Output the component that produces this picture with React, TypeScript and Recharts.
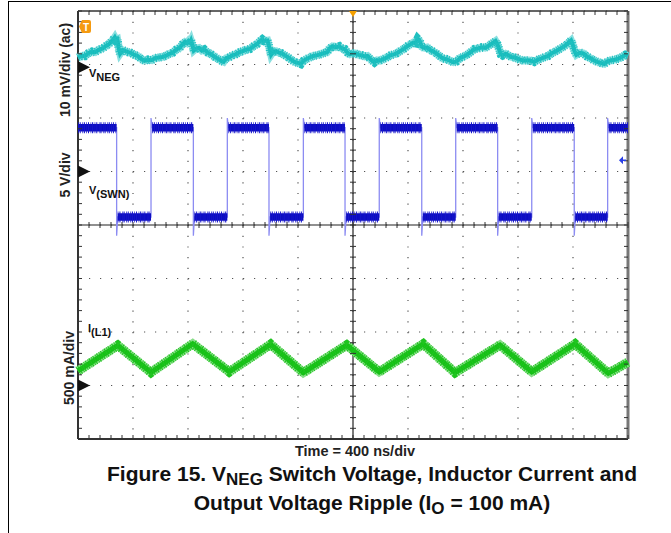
import {
  CartesianGrid,
  ComposedChart,
  Line,
  ReferenceDot,
  ReferenceLine,
  Scatter,
  XAxis,
  YAxis,
} from "recharts";

const MAJOR_X = [0, 400, 800, 1200, 1600, 2000, 2400, 2800, 3200, 3600, 4000];
const MAJOR_Y = [-4, -3, -2, -1, 0, 1, 2, 3, 4];
const MINOR_X = [
  0, 80, 160, 240, 320, 400, 480, 560, 640, 720, 800, 880, 960, 1040, 1120, 1200, 1280,
  1360, 1440, 1520, 1600, 1680, 1760, 1840, 1920, 2000, 2080, 2160, 2240, 2320, 2400,
  2480, 2560, 2640, 2720, 2800, 2880, 2960, 3040, 3120, 3200, 3280, 3360, 3440, 3520,
  3600, 3680, 3760, 3840, 3920, 4000,
];
const MINOR_Y = [
  -4, -3.8, -3.6, -3.4, -3.2, -3, -2.8, -2.6, -2.4, -2.2, -2, -1.8, -1.6, -1.4, -1.2, -1,
  -0.8, -0.6, -0.4, -0.2, 0, 0.2, 0.4, 0.6, 0.8, 1, 1.2, 1.4, 1.6, 1.8, 2, 2.2, 2.4, 2.6,
  2.8, 3, 3.2, 3.4, 3.6, 3.8, 4,
];

// channel 1: V_NEG ripple, 10 mV/div (ac)
const VNEG_GND_DIV = 2.95;
const VNEG_MV_PER_DIV = 10;
const VNEG_T = [
  0, 25, 51, 75, 102, 125, 153, 180, 204, 225, 242, 258, 268, 278, 286, 296, 306, 325, 345,
  365, 383, 410, 434, 460, 485, 510, 536, 560, 587, 612, 638, 665, 689, 715, 740, 760, 778,
  792, 804, 815, 822, 832, 842, 860, 880, 900, 919, 945, 970, 995, 1021, 1040, 1059, 1078,
  1097, 1120, 1148, 1175, 1199, 1225, 1250, 1275, 1302, 1320, 1340, 1355, 1378, 1392, 1404,
  1420, 1442, 1460, 1480, 1505, 1531, 1555, 1582, 1600, 1621, 1640, 1659, 1685, 1710, 1735,
  1761, 1785, 1812, 1830, 1850, 1875, 1901, 1920, 1940, 1960, 1978, 1995, 2016, 2040, 2067,
  2085, 2105, 2130, 2156, 2175, 2195, 2220, 2246, 2270, 2297, 2320, 2348, 2375, 2399, 2420,
  2437, 2455, 2470, 2485, 2501, 2520, 2539, 2560, 2578, 2605, 2629, 2655, 2680, 2705, 2731,
  2755, 2782, 2808, 2833, 2860, 2884, 2910, 2935, 2960, 2986, 3010, 3037, 3050, 3062, 3075,
  3088, 3110, 3126, 3150, 3177, 3205, 3241, 3280, 3318, 3345, 3369, 3395, 3420, 3445, 3471,
  3497, 3522, 3548, 3573, 3586, 3598, 3611, 3624, 3650, 3675, 3700, 3726, 3750, 3777, 3800,
  3828, 3850, 3879, 3905, 3930, 3955, 3981, 4000,
];
const VNEG_MV = [
  1.8, 2.1, 2.1, 2.6, 2.9, 2.8, 3.3, 3.5, 4.0, 4.3, 4.8, 5.2, 5.6, 5.1, 5.2, 3.6, 2.5, 3.2,
  3.0, 2.8, 2.7, 2.3, 2.1, 1.5, 1.2, 1.4, 1.3, 1.7, 1.8, 1.9, 2.1, 2.5, 2.7, 3.3, 3.6, 4.3,
  4.7, 4.5, 4.9, 4.6, 5.0, 4.2, 3.1, 3.5, 3.6, 3.1, 3.3, 2.7, 2.4, 1.9, 1.5, 1.2, 1.0, 1.7,
  1.8, 2.2, 2.4, 2.8, 3.0, 3.3, 3.4, 3.9, 4.3, 4.8, 5.2, 4.9, 5.0, 3.7, 2.3, 2.9, 3.0, 2.7,
  2.6, 2.2, 1.8, 1.3, 0.9, 0.8, 0.6, 1.2, 1.5, 1.8, 2.1, 2.2, 2.4, 2.6, 2.8, 3.5, 3.9, 3.7,
  3.9, 3.5, 3.4, 2.7, 2.4, 2.6, 2.6, 2.3, 2.2, 2.0, 2.1, 1.4, 0.9, 1.3, 1.2, 1.5, 1.8, 2.2,
  2.4, 2.6, 3.1, 3.5, 4.0, 4.3, 4.6, 4.5, 5.3, 4.9, 3.8, 3.6, 3.7, 3.2, 3.0, 2.6, 2.1, 1.6,
  1.5, 1.2, 0.9, 1.1, 1.8, 2.0, 2.4, 2.9, 3.4, 3.5, 3.7, 3.6, 4.0, 4.4, 4.9, 4.3, 3.4, 2.4,
  2.2, 2.5, 2.3, 1.9, 1.8, 1.5, 1.2, 1.3, 1.0, 1.4, 1.6, 1.9, 2.1, 2.6, 2.9, 3.3, 3.7, 4.1,
  4.7, 5.0, 4.2, 3.0, 2.3, 2.7, 2.6, 2.0, 1.7, 1.3, 1.0, 0.8, 0.6, 1.1, 1.3, 1.4, 1.6, 1.9,
  2.3, 2.1,
];

// channel 2: V(SWN), 5 V/div
const SWN_GND_DIV = 1;
const SWN_V_PER_DIV = 5;
const SWN_FALL_NS = [281, 839, 1389, 1942, 2500, 3052, 3609];
const SWN_RISE_NS = [531, 1086, 1639, 2191, 2747, 3300, 3852];
const SWN_HIGH_V = 4.1;
const SWN_LOW_V = -4.25;
const SWN_UNDERSHOOT_V = -6.0;
const SWN_OVERSHOOT_V = 5.0;

// channel 4: I(L1), 500 mA/div
const IL1_GND_DIV = -3;
const IL1_MA_PER_DIV = 500;
const IL1_T = [0, 289, 531, 834, 1100, 1401, 1639, 1954, 2191, 2511, 2742, 3069, 3300, 3615, 3857, 4000];
const IL1_MA = [136, 375, 122, 390, 128, 385, 120, 378, 128, 388, 120, 378, 128, 388, 114, 218];

const TRIGGER_LEVEL_DIV = 1.21;
const T_MARKER_DIV = 3.71;

type Row = { t: number; v: number | null };

const vnegRows: Row[] = VNEG_T.map((t, i) => ({ t, v: VNEG_GND_DIV + VNEG_MV[i] / VNEG_MV_PER_DIV }));
const il1Rows: Row[] = IL1_T.map((t, i) => ({ t, v: IL1_GND_DIV + IL1_MA[i] / IL1_MA_PER_DIV }));

const sw = (volts: number) => SWN_GND_DIV + volts / SWN_V_PER_DIV;

// thin trace incl. edges and ringing spikes
const swnEdgeRows: Row[] = [{ t: 0, v: sw(SWN_HIGH_V) }];
// thick noisy flat parts, broken at each edge
const swnBandRows: Row[] = [{ t: 0, v: sw(SWN_HIGH_V) }];
SWN_FALL_NS.forEach((f, i) => {
  const r = SWN_RISE_NS[i];
  swnEdgeRows.push(
    { t: f, v: sw(SWN_HIGH_V) },
    { t: f, v: sw(SWN_UNDERSHOOT_V) },
    { t: f + 8, v: sw(SWN_LOW_V) },
    { t: r, v: sw(SWN_LOW_V) },
    { t: r, v: sw(SWN_OVERSHOOT_V) },
    { t: r + 8, v: sw(SWN_HIGH_V) },
  );
  swnBandRows.push(
    { t: f, v: sw(SWN_HIGH_V) },
    { t: f + 4, v: null },
    { t: f + 8, v: sw(SWN_LOW_V) },
    { t: r, v: sw(SWN_LOW_V) },
    { t: r + 4, v: null },
    { t: r + 8, v: sw(SWN_HIGH_V) },
  );
});
swnEdgeRows.push({ t: 4000, v: sw(SWN_HIGH_V) });
swnBandRows.push({ t: 4000, v: sw(SWN_HIGH_V) });

const bottomTicks = MINOR_X.map((t) => ({ t, v: -4 }));
const topTicks = MINOR_X.map((t) => ({ t, v: 4 }));
const hCenterTicks = MINOR_X.map((t) => ({ t, v: 0 }));
const leftTicks = MINOR_Y.map((v) => ({ t: 0, v }));
const rightTicks = MINOR_Y.map((v) => ({ t: 4000, v }));
const vCenterTicks = MINOR_Y.map((v) => ({ t: 2000, v }));

const FONT = '"Liberation Sans", Arial, Helvetica, sans-serif';
const INK = "#333";

const tickShape = (dx1: number, dy1: number, dx2: number, dy2: number) => (p: any) => (
  <line x1={p.cx + dx1} y1={p.cy + dy1} x2={p.cx + dx2} y2={p.cy + dy2} stroke={INK} strokeWidth={1} />
);

const groundMarker = (p: any) => (
  <polygon points={`${p.cx},${p.cy - 6} ${p.cx + 12},${p.cy} ${p.cx},${p.cy + 6}`} fill="#111" />
);

function RotLabel({ x, y, text }: { x: number; y: number; text: string }) {
  return (
    <div
      style={{
        position: "absolute",
        left: x,
        top: y,
        transform: "translate(-50%, -50%) rotate(-90deg)",
        whiteSpace: "nowrap",
        fontWeight: "bold",
        fontSize: 14,
        lineHeight: "14px",
        color: "#222",
      }}
    >
      {text}
    </div>
  );
}

function TraceLabel({ x, y, main, sub }: { x: number; y: number; main: string; sub: string }) {
  return (
    <div style={{ position: "absolute", left: x, top: y, fontWeight: "bold", fontSize: 11, lineHeight: "12px", color: "#111", whiteSpace: "nowrap" }}>
      {main}
      <span style={{ position: "relative", top: 4 }}>{sub}</span>
    </div>
  );
}

const fuzz = (data: Row[], color: string, width: number, dash: string) => (
  <Line data={data} dataKey="v" type="linear" stroke={color} strokeWidth={width} strokeDasharray={dash} dot={false} isAnimationActive={false} />
);

export default function App() {
  return (
    <div
      style={{
        position: "absolute",
        left: 0,
        top: 0,
        width: 671,
        height: 533,
        overflow: "hidden",
        background: "#fff",
        fontFamily: FONT,
      }}
    >
      <div
        style={{
          position: "absolute",
          left: 8,
          top: 1,
          width: 700,
          height: 600,
          borderTop: "1px solid #000",
          borderLeft: "1px solid #000",
        }}
      />
      <div style={{ position: "absolute", left: 0, top: 0 }}>
        <ComposedChart width={671} height={533} margin={{ top: 11, left: 78, right: 43, bottom: 94 }}>
          <XAxis dataKey="t" type="number" domain={[0, 4000]} ticks={MAJOR_X} hide />
          <YAxis dataKey="v" type="number" domain={[-4, 4]} ticks={MAJOR_Y} hide />
          <CartesianGrid
            vertical={false}
            horizontalValues={MAJOR_Y}
            stroke="#555"
            strokeWidth={1.2}
            strokeDasharray="1.2 9.8"
          />
          <CartesianGrid
            horizontal={false}
            verticalValues={MAJOR_X}
            stroke="#555"
            strokeWidth={1.2}
            strokeDasharray="1.2 9.5"
          />
          <ReferenceLine x={2000} stroke="#222" strokeWidth={1.2} />
          <ReferenceLine y={0} stroke="#222" strokeWidth={1.2} />

          <Scatter data={bottomTicks} dataKey="v" shape={tickShape(0, 0, 0, -4)} isAnimationActive={false} />
          <Scatter data={topTicks} dataKey="v" shape={tickShape(0, 0, 0, 4)} isAnimationActive={false} />
          <Scatter data={hCenterTicks} dataKey="v" shape={tickShape(0, -3, 0, 3)} isAnimationActive={false} />
          <Scatter data={leftTicks} dataKey="v" shape={tickShape(0, 0, 4, 0)} isAnimationActive={false} />
          <Scatter data={rightTicks} dataKey="v" shape={tickShape(0, 0, -4, 0)} isAnimationActive={false} />
          <Scatter data={vCenterTicks} dataKey="v" shape={tickShape(-3, 0, 3, 0)} isAnimationActive={false} />

          {/* frame */}
          <ReferenceLine x={0} stroke={INK} strokeWidth={2} />
          <ReferenceLine y={4} stroke={INK} strokeWidth={1.5} />
          <ReferenceLine y={-4} stroke={INK} strokeWidth={2.2} />
          <ReferenceLine x={4000} stroke="#777" strokeWidth={3} />

          {/* V(SWN) */}
          <Line data={swnEdgeRows} dataKey="v" type="linear" stroke="#8c8cf2" strokeWidth={1.3} dot={false} isAnimationActive={false} />
          <Line data={swnBandRows} dataKey="v" type="linear" stroke="#0c0cc0" strokeWidth={7.5} dot={false} isAnimationActive={false} />
          {fuzz(swnBandRows, "#1616cc", 11, "0.7 1 1 1.6 0.6 0.9 1.1 1.4")}

          {/* I(L1) */}
          <Line data={il1Rows} dataKey="v" type="linear" stroke="#88de88" strokeWidth={9} dot={false} isAnimationActive={false} />
          <Line data={il1Rows} dataKey="v" type="linear" stroke="#16c016" strokeWidth={5} dot={false} isAnimationActive={false} />
          {fuzz(il1Rows, "#20c420", 9.5, "0.7 1.2 1 1.8 0.6 1 1.2 1.5")}

          {/* V_NEG */}
          <Line data={vnegRows} dataKey="v" type="linear" stroke="#8ae0e0" strokeWidth={7.5} dot={false} isAnimationActive={false} />
          <Line data={vnegRows} dataKey="v" type="linear" stroke="#17bcbc" strokeWidth={4} dot={false} isAnimationActive={false} />
          {fuzz(vnegRows, "#20c0c0", 8.5, "0.7 1.2 1 1.8 0.6 1 1.1 1.5")}

          {/* channel grounds, trigger markers */}
          <ReferenceDot x={0} y={VNEG_GND_DIV} ifOverflow="visible" shape={groundMarker} />
          <ReferenceDot x={0} y={SWN_GND_DIV} ifOverflow="visible" shape={groundMarker} />
          <ReferenceDot x={0} y={IL1_GND_DIV} ifOverflow="visible" shape={groundMarker} />
          <ReferenceDot
            x={2000}
            y={4}
            ifOverflow="visible"
            shape={(p: any) => (
              <polygon points={`${p.cx - 4},${p.cy} ${p.cx + 4},${p.cy} ${p.cx},${p.cy + 6}`} fill="#f5a000" />
            )}
          />
          <ReferenceDot
            x={0}
            y={T_MARKER_DIV}
            ifOverflow="visible"
            shape={(p: any) => (
              <g>
                <path
                  d={`M${p.cx + 1},${p.cy} L${p.cx + 4},${p.cy - 6.5} H${p.cx + 11} Q${p.cx + 13},${p.cy - 6.5} ${p.cx + 13},${p.cy - 4.5} V${p.cy + 4.5} Q${p.cx + 13},${p.cy + 6.5} ${p.cx + 11},${p.cy + 6.5} H${p.cx + 4} Z`}
                  fill="#f59a10"
                />
                <text x={p.cx + 8} y={p.cy + 4} textAnchor="middle" fontSize={10} fontWeight="bold" fill="#fff" fontFamily={FONT}>
                  T
                </text>
              </g>
            )}
          />
          <ReferenceDot
            x={4000}
            y={TRIGGER_LEVEL_DIV}
            ifOverflow="visible"
            shape={(p: any) => (
              <g>
                <polygon points={`${p.cx - 9},${p.cy} ${p.cx - 5},${p.cy - 4} ${p.cx - 5},${p.cy + 4}`} fill="#2a3ee6" />
                <line x1={p.cx - 5} y1={p.cy} x2={p.cx - 2} y2={p.cy} stroke="#2a3ee6" strokeWidth={1.5} />
              </g>
            )}
          />
        </ComposedChart>
      </div>

      <RotLabel x={65} y={70} text="10 mV/div (ac)" />
      <RotLabel x={65} y={175} text="5 V/div" />
      <RotLabel x={69} y={368} text="500 mA/div" />

      <TraceLabel x={89} y={67} main="V" sub="NEG" />
      <TraceLabel x={89} y={184} main="V" sub="(SWN)" />
      <TraceLabel x={88} y={322} main="I" sub="(L1)" />

      <div
        style={{
          position: "absolute",
          left: 255,
          width: 200,
          top: 443,
          textAlign: "center",
          fontWeight: "bold",
          fontSize: 14.5,
          lineHeight: "16px",
          color: "#222",
        }}
      >
        Time = 400 ns/div
      </div>

      <div
        style={{
          position: "absolute",
          left: 22,
          width: 700,
          top: 460,
          textAlign: "center",
          fontWeight: "bold",
          fontSize: 21,
          lineHeight: "27px",
          color: "#111",
        }}
      >
        Figure 15. V<span style={{ fontSize: 17, position: "relative", top: 4 }}>NEG</span> Switch Voltage, Inductor Current and
        <br />
        Output Voltage Ripple (I<span style={{ fontSize: 17, position: "relative", top: 4 }}>O</span> = 100 mA)
      </div>
    </div>
  );
}
